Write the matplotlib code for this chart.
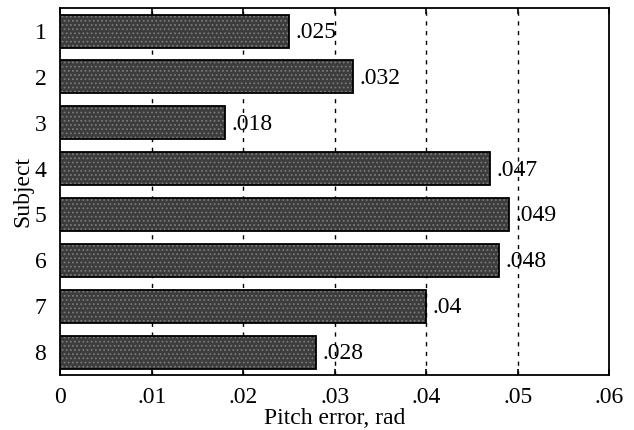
import matplotlib.pyplot as plt

plt.rcParams["font.family"] = ["Liberation Serif", "DejaVu Serif"]
plt.rcParams["hatch.linewidth"] = 0.8

subjects = ["1", "2", "3", "4", "5", "6", "7", "8"]
pitch_error = [0.025, 0.032, 0.018, 0.047, 0.049, 0.048, 0.04, 0.028]
bar_labels = [".025", ".032", ".018", ".047", ".049", ".048", ".04", ".028"]
xticks = [0, 0.01, 0.02, 0.03, 0.04, 0.05, 0.06]
xtick_labels = ["0", ".01", ".02", ".03", ".04", ".05", ".06"]

fig = plt.figure(figsize=(6.34, 4.3), dpi=100)
ax = fig.add_axes([0.095, 0.128, 0.866, 0.853])

ypos = list(range(len(subjects)))
# stippled fill, then a black outline on top
ax.barh(ypos, pitch_error, height=0.72, color="#3c3c3c", hatch="....",
        edgecolor="#7a7a7a", linewidth=0, zorder=3)
ax.barh(ypos, pitch_error, height=0.72, fill=False,
        edgecolor="black", linewidth=1.3, zorder=4)

for y, v, lab in zip(ypos, pitch_error, bar_labels):
    ax.text(v + 0.0007, y + 0.03, lab, va="center", ha="left", fontsize=17)

# dashed grid behind the bars
for x in xticks[1:-1]:
    ax.axvline(x, color="black", linestyle=(0, (3, 4)), linewidth=1.0, zorder=1)

ax.set_xlim(0, 0.06)
ax.set_ylim(len(subjects) - 0.5, -0.5)
ax.set_yticks(ypos)
ax.set_yticklabels(subjects)
ax.set_xticks(xticks)
ax.set_xticklabels(xtick_labels)
ax.tick_params(axis="both", labelsize=17, direction="in", length=0, pad=10)
ax.tick_params(axis="x", length=4, top=True, width=1.2, pad=9)

for s in ax.spines.values():
    s.set_linewidth(1.3)

ax.set_xlabel("Pitch error, rad", fontsize=17, labelpad=0)
ax.set_ylabel("Subject", fontsize=17, labelpad=1)

fig.savefig("out.png", dpi=100)
